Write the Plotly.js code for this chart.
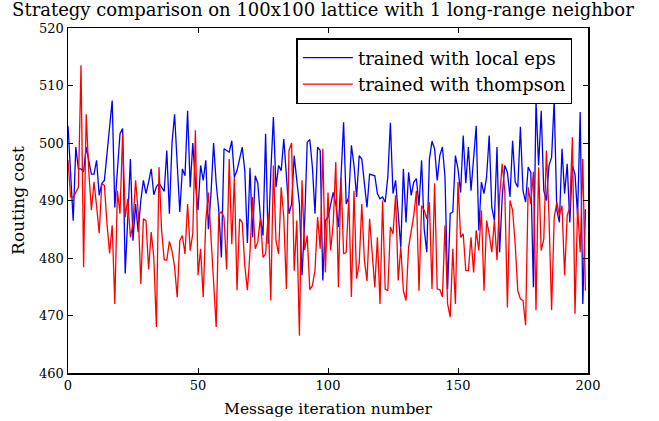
<!DOCTYPE html>
<html>
<head>
<meta charset="utf-8">
<script src="https://cdn.plot.ly/plotly-3.0.1.min.js"></script>
<style>html,body{margin:0;padding:0;background:#fff;}#chart{width:659px;height:421px;}</style>
</head>
<body>
<div id="chart"></div>
<script>
const seriesNames = ["trained with local eps", "trained with thompson"];
const seriesColors = ["#0000ff", "#ff0000"];

const localEps = [
503, 495, 486.5, 499.3, 495.5, 495.5, 495, 499.3, 497, 494.6, 494.6, 497, 490.9, 493, 493.5, 498, 503, 507.4, 488.8, 495, 501.6, 502.5, 477.3, 487, 497.2,
483, 489.4, 484.5, 490, 493.5, 491.2, 493.2, 495.5, 491, 492.4, 493, 492.3, 491.6, 498.7, 487.7, 500, 505, 496.4, 488, 495.5, 494.3, 505.6, 492.3, 500,
493, 488.3, 496.1, 493.5, 497, 485, 491.2, 500, 493, 488.3, 480.1, 499, 498.7, 498.4, 500.4, 494.1, 495.2, 497.5, 499.3, 495.2, 482.6, 495.7, 483.6, 494.3, 493, 487.1,
483.9, 501.6, 482.5, 495, 504.5, 492.3, 496.1, 495.2, 500.7, 494.3, 487.7, 489.4, 497.8, 493.5, 489.4, 477, 486, 500.1, 500.6, 495.8, 487.7, 499.3, 498.7, 476.1,
486.5, 487.1, 489.4, 491.4, 489.4, 485.4, 494.1, 503.6, 489.4, 490.6, 499.6, 496.1, 490.6, 497.8, 497.2, 493, 488.8, 494.6, 494.5, 494.3, 491.2, 490.3, 490.6, 489.7, 494.1,
503.5, 491.2, 493.5, 487.7, 481.9, 495.5, 486.2, 494.9, 490.9, 493.2, 493.8, 489.1, 497, 485, 481, 497.2, 500.3, 499, 493.5, 497.8, 499.3, 494.1, 474.6, 487.7, 488,
497.8, 495.5, 491.4, 501.3, 493, 499.3, 491.7, 497.5, 503, 484.8, 493.2, 491.2, 494.1, 501.3, 488.8, 486.5, 499.3, 481, 490.6, 496.1, 494.9, 490.6, 500.4, 493.2, 492.3,
502.8, 491.7, 489.7, 495.8, 494.9, 474.9, 507.4, 496.1, 505.6, 491.7, 490, 496.1, 497.5, 507.4, 488.3, 486.2, 499, 491.2, 496.4, 486.2, 496.1, 494.6, 487.4, 505.4, 472, 488.5
];

const thompson = [
497, 490.6, 490.5, 491.5, 492.3, 513.5, 478.4, 505, 495, 488.3, 493.2, 489, 484.3, 493, 492.6, 486, 480.8, 485.7, 472, 491.7, 487.7, 501.6, 487.1, 490.3, 483.6,
486, 493.5, 488, 475.5, 486.8, 486.5, 478, 484.5, 480.1, 468, 495.8, 484.8, 479.7, 479.6, 482.9, 481.3, 478.4, 473.2, 483, 483.9, 480.7, 489.4, 481.3, 484.3, 502.2,
477, 481.6, 473.2, 486.5, 491.4, 483.6, 475.5, 468, 487.7, 488, 487.1, 478, 497.2, 482.4, 494.1, 474.4, 486.8, 486.2, 478.7, 474.4, 481, 490.6, 481.6, 482.8, 487.1,
480.1, 480.7, 487.7, 472.6, 496.1, 483, 480.7, 492.3, 487.1, 474.6, 498.7, 500, 477.8, 486.5, 466.5, 493.5, 481.4, 483.9, 474.5, 475.2, 477.9, 487.1, 481.6, 499,
477.5, 491.4, 481.3, 486, 496.7, 474.9, 494.1, 480.7, 481, 490.6, 473.2, 491.7, 476.4, 479, 489.4, 479.6, 476, 486.8, 480.1, 474.9, 483.6, 472, 490, 474.6, 474.3,
485.4, 484.2, 490.9, 476.1, 481.9, 474.3, 472.6, 481.9, 484.5, 487.4, 491.7, 474.3, 489.1, 488.3, 486.8, 489.7, 474.6, 493, 474.6, 474.5, 473.2, 485.7, 472, 469.7, 481.6,
472, 493.2, 483.6, 484.2, 477.8, 477.8, 483.6, 477.5, 484.8, 481.3, 488.3, 474.3, 486.5, 484.2, 481, 486.5, 479.6, 490.6, 496.4, 491.7, 471.4, 490, 488.3, 482.4, 474.3,
472.9, 472.6, 468.3, 492.3, 489.4, 495, 470.9, 495.8, 481.3, 483.3, 498.7, 487.1, 470.9, 487, 489.7, 487.4, 489.1, 477, 487.4, 488.8, 501, 470.3, 488.8, 481, 497.2, 474.3
];

const iterations = localEps.map((_, i) => i);
const xTicks = [0, 50, 100, 150, 200];
const yTicks = [460, 470, 480, 490, 500, 510, 520];

const FONT = "DejaVu Serif";

const traces = [localEps, thompson].map((vals, k) => ({
  x: iterations,
  y: vals,
  type: "scatter",
  mode: "lines",
  name: seriesNames[k],
  legendgroup: "g" + k,
  line: {color: seriesColors[k], width: 1.3}
}));

const axisCommon = {
  showline: true, linecolor: "#000", linewidth: 1.5, mirror: "ticks",
  ticks: "inside", ticklen: 5, tickwidth: 1, tickcolor: "#000",
  showgrid: false, zeroline: false,
  tickfont: {family: FONT, size: 13, color: "#000"}
};

const layout = {
  width: 659, height: 421,
  margin: {l: 68, r: 71, t: 28, b: 48},
  paper_bgcolor: "#fff", plot_bgcolor: "#fff",
  font: {family: FONT, color: "#000"},
  title: {text: "Strategy comparison on 100x100 lattice with 1 long-range neighbor",
          font: {family: FONT, size: 18, color: "#000"},
          x: 0.49, xanchor: "center", xref: "container", y: 0.993, yanchor: "top", yref: "container"},
  xaxis: Object.assign({}, axisCommon, {
    range: [0, 200], tickvals: xTicks, ticktext: xTicks.map(String),
    title: {text: "Message iteration number", font: {family: FONT, size: 15.5, color: "#000"}, standoff: 11}
  }),
  yaxis: Object.assign({}, axisCommon, {
    range: [460, 520], tickvals: yTicks, ticktext: yTicks.map(String),
    title: {text: "Routing cost", font: {family: FONT, size: 17, color: "#000"}, standoff: 10}
  }),
  showlegend: true,
  legend: {
    x: 0.97, xanchor: "right", y: 0.971, yanchor: "top",
    bgcolor: "#fff", bordercolor: "#000", borderwidth: 1.5,
    font: {family: FONT, size: 18, color: "#000"},
    traceorder: "grouped", tracegroupgap: 0, itemwidth: 50
  }
};

Plotly.newPlot("chart", traces, layout, {displayModeBar: false, staticPlot: true});
</script>
</body>
</html>
